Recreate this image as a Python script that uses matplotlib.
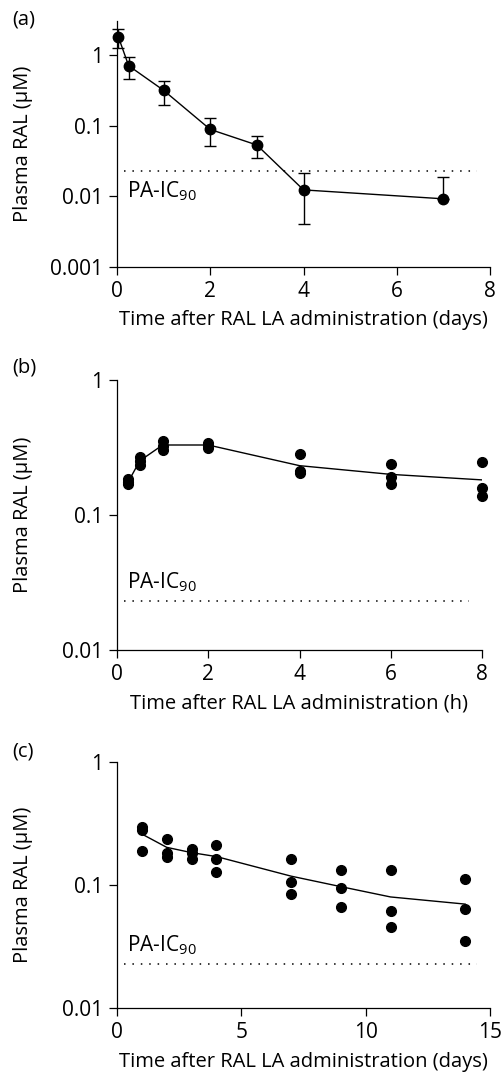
import matplotlib
matplotlib.use("Agg")
import matplotlib.pyplot as plt
from matplotlib.ticker import FixedLocator, FuncFormatter, NullLocator

plt.rcParams["font.family"] = ["Open Sans", "DejaVu Sans"]
plt.rcParams["mathtext.fontset"] = "custom"
plt.rcParams["mathtext.rm"] = "Open Sans"

# panel (a): mean with error bars, days
a_time = [0.03, 0.25, 1, 2, 3, 4, 7]
a_mean = [1.78, 0.70, 0.314, 0.088, 0.053, 0.0123, 0.0092]
a_upper = [2.3, 0.93, 0.43, 0.126, 0.070, 0.021, 0.019]
a_lower = [1.24, 0.46, 0.198, 0.052, 0.035, 0.0041, 0.0092]

# panel (b): individual values, hours
b_time = [0.25, 0.5, 1, 2, 4, 6, 8]
b_values = [
    [0.184, 0.177, 0.170],
    [0.267, 0.252, 0.235],
    [0.353, 0.324, 0.301],
    [0.343, 0.324, 0.312],
    [0.281, 0.212, 0.206],
    [0.239, 0.191, 0.170],
    [0.248, 0.158, 0.138],
]
b_mean = [0.177, 0.252, 0.33, 0.33, 0.232, 0.20, 0.182]

# panel (c): individual values, days
c_time = [1, 2, 3, 4, 7, 9, 11, 14]
c_values = [
    [0.297, 0.279, 0.187],
    [0.238, 0.183, 0.170],
    [0.195, 0.181, 0.162],
    [0.211, 0.164, 0.128],
    [0.164, 0.106, 0.084],
    [0.133, 0.094, 0.0667],
    [0.133, 0.062, 0.046],
    [0.111, 0.064, 0.035],
]
c_mean = [0.259, 0.202, 0.183, 0.170, 0.118, 0.097, 0.080, 0.070]

pa_ic90 = 0.023

fig = plt.figure(figsize=(5.03, 10.73), dpi=100)
W, H = 503, 1073


def make_axes(left, right, top, bottom):
    ax = fig.add_axes([left / W, (H - bottom) / H, (right - left) / W, (bottom - top) / H])
    ax._px_box = (left, right)
    return ax


def style(ax, xticks, yticks, xlim, ylim, xlabel, label, label_y, ic_text_above):
    ax.set_yscale("log")
    ax.set_xlim(*xlim)
    ax.set_ylim(*ylim)
    ax.spines["top"].set_visible(False)
    ax.spines["right"].set_visible(False)
    for side in ("left", "bottom"):
        ax.spines[side].set_linewidth(0.9)
    ax.xaxis.set_major_locator(FixedLocator(xticks))
    ax.yaxis.set_major_locator(FixedLocator(yticks))
    ax.yaxis.set_minor_locator(NullLocator())
    ax.yaxis.set_major_formatter(FuncFormatter(lambda v, p: f"{v:g}"))
    ax.tick_params(direction="out", length=6, width=0.9, pad=4, labelsize=15)
    ax.set_xlabel(xlabel, fontsize=14.5, labelpad=6)
    ax.set_ylabel("Plasma RAL (µM)", fontsize=14.5, va="center")
    left, right = ax._px_box
    ax.yaxis.set_label_coords(-(left - 23) / (right - left), 0.5)
    ax.plot([0.019, 0.965], [pa_ic90, pa_ic90], transform=ax.get_yaxis_transform(),
            color="black", lw=1.1, ls=(0, (1, 4.5)), clip_on=False)
    if ic_text_above:
        ax.annotate("PA-IC$_{90}$", xy=(0.028, pa_ic90), xycoords=("axes fraction", "data"),
                    xytext=(0, 5), textcoords="offset points", fontsize=15, va="bottom")
    else:
        ax.annotate("PA-IC$_{90}$", xy=(0.028, pa_ic90), xycoords=("axes fraction", "data"),
                    xytext=(0, -6), textcoords="offset points", fontsize=15, va="top")
    fig.text(12 / W, 1 - label_y / H, label, fontsize=14.5, va="center", ha="left")


# (a)
ax_a = make_axes(117, 490, 21, 267)
err_lo = [m - lo for m, lo in zip(a_mean, a_lower)]
err_hi = [hi - m for m, hi in zip(a_mean, a_upper)]
ax_a.errorbar(a_time, a_mean, yerr=[err_lo, err_hi], color="black", lw=1.0,
              marker="o", ms=7.5, capsize=4, elinewidth=1.0, capthick=1.0, clip_on=False)
style(ax_a, [0, 2, 4, 6, 8], [0.001, 0.01, 0.1, 1], (0, 8), (0.001, 3),
      "Time after RAL LA administration (days)", "(a)", 20, False)

# (b)
ax_b = make_axes(117, 482, 380, 650)
ax_b.plot(b_time, b_mean, color="black", lw=1.0)
for t, vals in zip(b_time, b_values):
    ax_b.plot([t] * len(vals), vals, "o", color="black", ms=7, clip_on=False)
style(ax_b, [0, 2, 4, 6, 8], [0.01, 0.1, 1], (0, 8), (0.01, 1),
      "Time after RAL LA administration (h)", "(b)", 368, True)

# (c)
ax_c = make_axes(117, 490, 761.7, 1008.3)
ax_c.plot(c_time, c_mean, color="black", lw=1.0)
for t, vals in zip(c_time, c_values):
    ax_c.plot([t] * len(vals), vals, "o", color="black", ms=7, clip_on=False)
style(ax_c, [0, 5, 10, 15], [0.01, 0.1, 1], (0, 15), (0.01, 1),
      "Time after RAL LA administration (days)", "(c)", 752, True)

fig.savefig("out.png", dpi=100)
